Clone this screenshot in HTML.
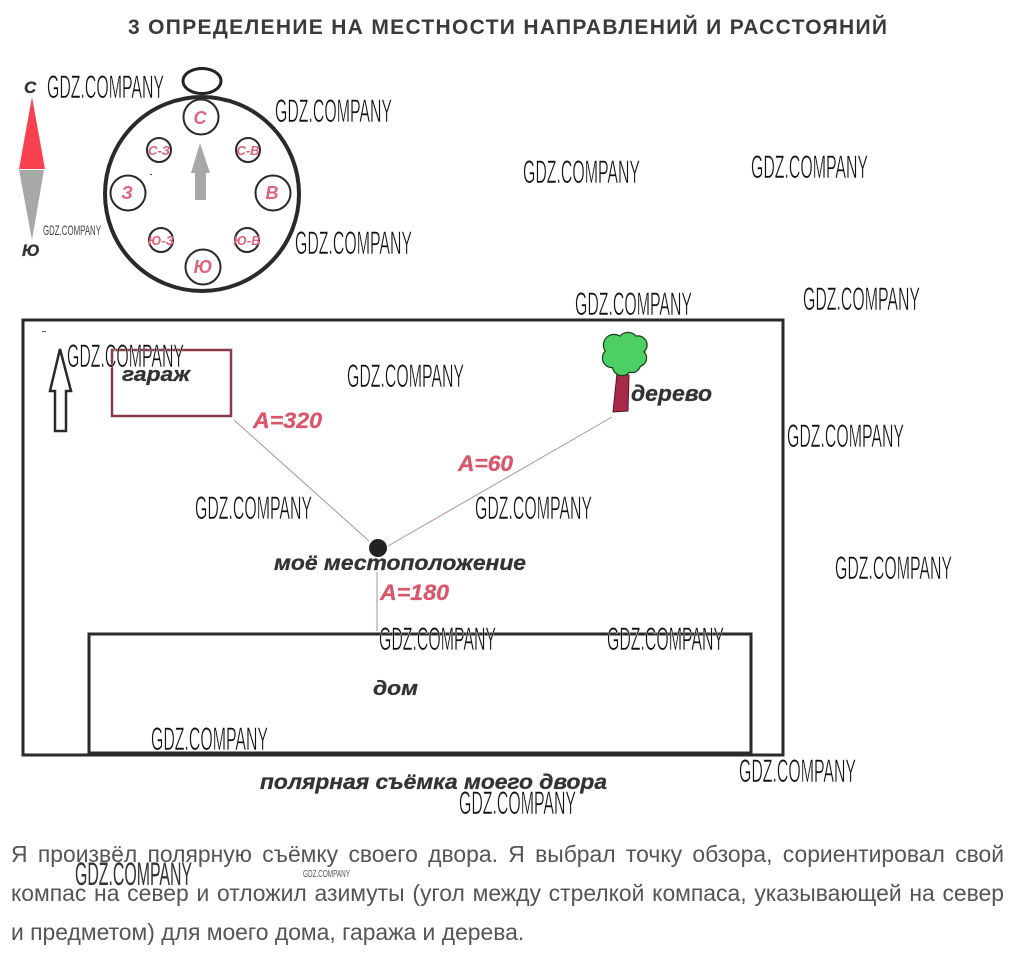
<!DOCTYPE html>
<html lang="ru"><head><meta charset="utf-8"><title>Диаграмма</title>
<style>
html,body{margin:0;padding:0;background:#fff}
#p{position:relative;width:1013px;height:957px;overflow:hidden;background:#fff}
svg{position:absolute;left:0;top:0}
text{font-family:"Liberation Sans",sans-serif}
.w{font-size:32px;fill:#111;font-weight:400;stroke:#fff;stroke-width:.55px}
.b{font-weight:700;font-style:italic;fill:#333;stroke:#333;stroke-width:.3px}
.r{font-weight:700;font-style:italic;fill:#d9566b;stroke:#d9566b;stroke-width:.3px}
.c{font-weight:700;font-style:italic;fill:#e0637a}
.l{position:absolute;left:11px;width:993px;font:22.9px/24px "Liberation Sans",sans-serif;color:#555;text-align:justify;text-align-last:justify;white-space:nowrap}
</style></head><body><div id="p">
<svg width="1013" height="957" viewBox="0 0 1013 957">
<text x="128" y="34" font-size="21" font-weight="700" fill="#3a3a3a" textLength="759" lengthAdjust="spacing">3 ОПРЕДЕЛЕНИЕ НА МЕСТНОСТИ НАПРАВЛЕНИЙ И РАССТОЯНИЙ</text>

<!-- small compass needle -->
<text x="24" y="93" font-size="17" class="b">С</text>
<polygon points="32,97 19,169 45,169" fill="#f8404f"/>
<polygon points="19,170 44,170 32,240" fill="#a8a8a8"/>
<text x="22" y="256" font-size="17" class="b">Ю</text>

<!-- compass -->
<circle cx="202" cy="194" r="97" fill="#fff" stroke="#2a2a2a" stroke-width="4"/>
<ellipse cx="202" cy="81" rx="19" ry="12.5" fill="#fff" stroke="#222" stroke-width="3"/>
<g fill="#fff" stroke="#2a2a2a" stroke-width="2">
<circle cx="201" cy="117" r="17.5"/><circle cx="128" cy="193" r="17.5"/><circle cx="273" cy="193" r="17.5"/><circle cx="203" cy="267" r="17.5"/>
<circle cx="159" cy="150" r="12"/><circle cx="248" cy="150" r="12"/><circle cx="161" cy="240" r="12"/><circle cx="247" cy="240" r="12"/>
</g>
<text x="200" y="124" font-size="18" class="c" text-anchor="middle">С</text>
<text x="127" y="199" font-size="18" class="c" text-anchor="middle">З</text>
<text x="272" y="199" font-size="18" class="c" text-anchor="middle">В</text>
<text x="203" y="273" font-size="18" class="c" text-anchor="middle">Ю</text>
<text x="159" y="155" font-size="13" class="c" text-anchor="middle">С-З</text>
<text x="248" y="155" font-size="13" class="c" text-anchor="middle">С-В</text>
<text x="161" y="245" font-size="13" class="c" text-anchor="middle">Ю-З</text>
<text x="247" y="245" font-size="13" class="c" text-anchor="middle">Ю-В</text>
<polygon points="200,143 191,173 195,173 195,200 206,200 206,173 210,173" fill="#a8a8a8"/>
<rect x="150" y="174" width="2" height="1" fill="#444"/>

<!-- yard -->
<rect x="23" y="320" width="760" height="435" fill="none" stroke="#2a2a2a" stroke-width="3"/>
<rect x="89" y="634" width="662" height="119" fill="none" stroke="#2a2a2a" stroke-width="3"/>
<rect x="112" y="350" width="119" height="66" fill="none" stroke="#8a3a48" stroke-width="2.5"/>
<rect x="42" y="331" width="4" height="1" fill="#555"/>
<polygon points="60,349 50,391 55,391 55,431 66,431 66,391 71,391" fill="#fff" stroke="#2a2a2a" stroke-width="2.5"/>
<text x="122" y="381" font-size="20" class="b" textLength="68" lengthAdjust="spacingAndGlyphs">гараж</text>

<!-- tree -->
<polygon points="617,373 629,375 628,411 613,412" fill="#a82a48" stroke="#5a1525" stroke-width="1"/>
<g fill="#1d3a1d" stroke="#1d3a1d" stroke-width="2.4">
<circle cx="614" cy="345" r="10"/><circle cx="628" cy="343" r="10"/><circle cx="638" cy="345" r="8.5"/><circle cx="638" cy="358" r="8"/><circle cx="612" cy="358" r="9"/><circle cx="622" cy="366" r="9"/><circle cx="632" cy="364" r="8"/>
</g>
<g fill="#4cd064">
<circle cx="614" cy="345" r="10"/><circle cx="628" cy="343" r="10"/><circle cx="638" cy="345" r="8.5"/><circle cx="638" cy="358" r="8"/><circle cx="612" cy="358" r="9"/><circle cx="622" cy="366" r="9"/><circle cx="632" cy="364" r="8"/><circle cx="624" cy="354" r="10"/>
</g>
<text x="631" y="401" font-size="22" class="b" textLength="81" lengthAdjust="spacingAndGlyphs">дерево</text>

<!-- rays -->
<g stroke="#b09098" stroke-width="1" fill="none">
<line x1="234" y1="420" x2="369" y2="541"/>
<line x1="612" y1="417" x2="388" y2="546"/>
<line x1="377" y1="572" x2="377" y2="631"/>
</g>
<circle cx="378" cy="548" r="9" fill="#222"/>
<text x="274" y="570" font-size="21" class="b" textLength="252" lengthAdjust="spacingAndGlyphs">моё местоположение</text>
<text x="253" y="428" font-size="22" class="r" textLength="69" lengthAdjust="spacingAndGlyphs">А=320</text>
<text x="458" y="471" font-size="22" class="r" textLength="55" lengthAdjust="spacingAndGlyphs">А=60</text>
<text x="380" y="600" font-size="22" class="r" textLength="69" lengthAdjust="spacingAndGlyphs">А=180</text>
<text x="373" y="695" font-size="20" class="b" textLength="45" lengthAdjust="spacingAndGlyphs">дом</text>
<text x="260" y="789" font-size="21" class="b" textLength="347" lengthAdjust="spacingAndGlyphs">полярная съёмка моего двора</text>

<!-- watermarks -->
<g>
<text class="w" x="47" y="98" textLength="117" lengthAdjust="spacingAndGlyphs">GDZ.COMPANY</text>
<text class="w" x="275" y="122" textLength="117" lengthAdjust="spacingAndGlyphs">GDZ.COMPANY</text>
<text class="w" x="523" y="183" textLength="117" lengthAdjust="spacingAndGlyphs">GDZ.COMPANY</text>
<text class="w" x="751" y="178" textLength="117" lengthAdjust="spacingAndGlyphs">GDZ.COMPANY</text>
<text class="w" x="295" y="254" textLength="117" lengthAdjust="spacingAndGlyphs">GDZ.COMPANY</text>
<text class="w" x="575" y="315" textLength="117" lengthAdjust="spacingAndGlyphs">GDZ.COMPANY</text>
<text class="w" x="803" y="310" textLength="117" lengthAdjust="spacingAndGlyphs">GDZ.COMPANY</text>
<text class="w" x="67" y="367" textLength="117" lengthAdjust="spacingAndGlyphs">GDZ.COMPANY</text>
<text class="w" x="347" y="387" textLength="117" lengthAdjust="spacingAndGlyphs">GDZ.COMPANY</text>
<text class="w" x="787" y="447" textLength="117" lengthAdjust="spacingAndGlyphs">GDZ.COMPANY</text>
<text class="w" x="195" y="519" textLength="117" lengthAdjust="spacingAndGlyphs">GDZ.COMPANY</text>
<text class="w" x="475" y="519" textLength="117" lengthAdjust="spacingAndGlyphs">GDZ.COMPANY</text>
<text class="w" x="835" y="579" textLength="117" lengthAdjust="spacingAndGlyphs">GDZ.COMPANY</text>
<text class="w" x="379" y="650" textLength="117" lengthAdjust="spacingAndGlyphs">GDZ.COMPANY</text>
<text class="w" x="607" y="650" textLength="117" lengthAdjust="spacingAndGlyphs">GDZ.COMPANY</text>
<text class="w" x="151" y="750" textLength="117" lengthAdjust="spacingAndGlyphs">GDZ.COMPANY</text>
<text class="w" x="739" y="782" textLength="117" lengthAdjust="spacingAndGlyphs">GDZ.COMPANY</text>
<text class="w" x="459" y="814" textLength="117" lengthAdjust="spacingAndGlyphs">GDZ.COMPANY</text>
<text x="43" y="235" font-size="14" fill="#444" textLength="58" lengthAdjust="spacingAndGlyphs">GDZ.COMPANY</text>
</g>
</svg>
<div class="l" style="top:842px">Я произвёл полярную съёмку своего двора. Я выбрал точку обзора, сориентировал свой</div>
<div class="l" style="top:881px">компас на север и отложил азимуты (угол между стрелкой компаса, указывающей на север</div>
<div class="l" style="top:920px;text-align-last:left">и предметом) для моего дома, гаража и дерева.</div>
<svg width="1013" height="957" viewBox="0 0 1013 957">
<text class="w" style="stroke:none;fill:#333" x="75" y="885" textLength="117" lengthAdjust="spacingAndGlyphs">GDZ.COMPANY</text>
<text x="303" y="877" font-size="10" fill="#555" textLength="47" lengthAdjust="spacingAndGlyphs">GDZ.COMPANY</text>
</svg>
</div></body></html>
